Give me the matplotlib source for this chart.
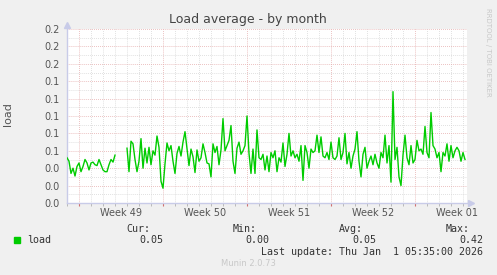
import numpy as np
import pandas as pd
import matplotlib
matplotlib.use("Agg")
import matplotlib.pyplot as plt
import matplotlib.dates as mdates
from matplotlib.ticker import MultipleLocator, FormatStrFormatter

# load samples, 4h apart, starting 30 Nov 2025 (NaN = missing data)
seg_a = [0.052, 0.048, 0.034, 0.040, 0.031, 0.042, 0.046, 0.036, 0.042, 0.050,
         0.046, 0.038, 0.046, 0.047, 0.044, 0.043, 0.050, 0.044, 0.038, 0.036,
         0.036, 0.044, 0.050, 0.047, 0.055]
gap = [np.nan] * 5
seg_b = [0.063, 0.036, 0.071, 0.068, 0.050, 0.036, 0.048, 0.074, 0.040, 0.063,
         0.046, 0.064, 0.044, 0.060, 0.055, 0.077, 0.064, 0.025, 0.017, 0.045,
         0.069, 0.060, 0.066, 0.048, 0.034, 0.057, 0.065, 0.054, 0.070, 0.082,
         0.063, 0.043, 0.062, 0.053, 0.035, 0.061, 0.048, 0.052]
seg_c = [0.068, 0.058, 0.046, 0.045, 0.030, 0.068, 0.058, 0.065, 0.044, 0.061,
         0.097, 0.060, 0.066, 0.072, 0.089, 0.048, 0.034, 0.063, 0.070, 0.056,
         0.060, 0.066, 0.100, 0.057, 0.034, 0.062, 0.034, 0.084, 0.052, 0.050,
         0.056, 0.038, 0.054, 0.036]
seg_d = [0.058, 0.052, 0.060, 0.036, 0.052, 0.047, 0.069, 0.042, 0.056, 0.080,
         0.054, 0.060, 0.052, 0.056, 0.048, 0.066, 0.026, 0.066, 0.058, 0.040,
         0.062, 0.058, 0.060, 0.078, 0.058, 0.076, 0.054, 0.052, 0.058, 0.050,
         0.070, 0.052, 0.050, 0.054]
seg_e = [0.075, 0.050, 0.058, 0.080, 0.045, 0.058, 0.040, 0.054, 0.062, 0.082,
         0.048, 0.030, 0.056, 0.064, 0.040, 0.048, 0.054, 0.044, 0.056, 0.046,
         0.040, 0.058, 0.052, 0.078, 0.046, 0.066, 0.024, 0.128, 0.050, 0.064,
         0.030, 0.020, 0.055, 0.078]
seg_f = [0.052, 0.044, 0.066, 0.046, 0.050, 0.072, 0.060, 0.062, 0.056, 0.088,
         0.058, 0.052, 0.104, 0.066, 0.062, 0.052, 0.058, 0.036, 0.058, 0.054,
         0.068, 0.048, 0.066, 0.052, 0.060, 0.064, 0.060, 0.048, 0.058, 0.050]
load = np.array(seg_a + gap + seg_b + seg_c + seg_d + seg_e + seg_f)

times = pd.date_range("2025-11-30 00:00", periods=len(load), freq="4h")
x_start = pd.Timestamp("2025-11-30 00:00")
x_end = pd.Timestamp("2026-01-02 08:00")

week_labels = ["Week 49", "Week 50", "Week 51", "Week 52", "Week 01"]
week_label_pos = pd.date_range("2025-12-04 12:00", periods=5, freq="7D")
week_starts = pd.date_range("2025-12-01", periods=5, freq="7D")

stat_names = ["Cur:", "Min:", "Avg:", "Max:"]
stat_values = ["0.05", "0.00", "0.05", "0.42"]
last_update = "Last update: Thu Jan  1 05:35:00 2026"

BG = "#f0f0f0"
GREEN = "#00cc00"
MAJ = "#e4a8a8"
MIN = "#d4d4d4"
AXC = "#c8cbe8"
TXT = "#555555"

W, H = 497, 275
fig = plt.figure(figsize=(W / 100, H / 100), dpi=100, facecolor=BG)
ax = fig.add_axes([67 / W, 1 - 203 / H, 400 / W, 174 / H])
ax.set_facecolor("white")

ax.plot(mdates.date2num(times), load, color=GREEN, lw=1.0, zorder=3)

ax.set_xlim(mdates.date2num(x_start), mdates.date2num(x_end))
ax.set_ylim(0, 0.2)

# grid: minor gray dotted, major red dotted
dots = (0, (0.7, 1.4))
ax.yaxis.set_major_locator(MultipleLocator(0.02))
ax.yaxis.set_minor_locator(MultipleLocator(0.01))
ax.yaxis.set_major_formatter(FormatStrFormatter("%.1f"))
ax.xaxis.set_minor_locator(mdates.DayLocator())
ax.set_xticks(mdates.date2num(week_starts))
ax.set_xticklabels([])
ax.grid(which="minor", color=MIN, lw=0.7, linestyle=dots, zorder=1)
ax.grid(which="major", color=MAJ, lw=0.7, linestyle=dots, zorder=2)

for s in ["top", "right"]:
    ax.spines[s].set_visible(False)
for s in ["left", "bottom"]:
    ax.spines[s].set_color(AXC)
    ax.spines[s].set_linewidth(1.0)

ax.tick_params(axis="y", which="both", length=0, labelsize=7, labelcolor=TXT, pad=5)
ax.tick_params(axis="x", which="major", length=2, color="#d07070", direction="out")
ax.tick_params(axis="x", which="minor", length=2, color="#b0b0b0", direction="out")

for lbl, pos in zip(week_labels, week_label_pos):
    ax.text(mdates.date2num(pos), -0.055, lbl, ha="center", va="center",
            fontsize=7, color=TXT, clip_on=False, transform=ax.get_xaxis_transform())

# axis arrows
ax.plot([0], [1.025], marker="^", color=AXC, ms=4, transform=ax.transAxes, clip_on=False)
ax.plot([1.01], [0], marker=">", color=AXC, ms=4, transform=ax.transAxes, clip_on=False)

fig.text(248 / W, 1 - 19 / H, "Load average - by month", ha="center", va="center",
         fontsize=9, color="#444444")
fig.text(8 / W, 1 - 114 / H, "load", ha="center", va="center", rotation=90,
         fontsize=8, color=TXT)
fig.text(488 / W, 1 - 52 / H, "RRDTOOL / TOBI OETIKER", ha="center", va="center",
         rotation=-90, fontsize=5, color="#c8c8c8")

# legend block
mono = "DejaVu Sans Mono"
fig.patches.append(plt.Rectangle((14 / W, 1 - 243 / H), 6 / W, 6 / H,
                                 transform=fig.transFigure, color=GREEN))
fig.text(27 / W, 1 - 240 / H, "load", ha="left", va="center", fontsize=7.2,
         family=mono, color="#333333")
head_right = [150, 257, 363, 470]
val_right = [163, 269, 376, 483]
for name, hx, val, vx in zip(stat_names, head_right, stat_values, val_right):
    fig.text(hx / W, 1 - 228.5 / H, name, ha="right", va="center", fontsize=7.2,
             family=mono, color="#333333")
    fig.text(vx / W, 1 - 240 / H, val, ha="right", va="center", fontsize=7.2,
             family=mono, color="#333333")
fig.text(483 / W, 1 - 252 / H, last_update, ha="right", va="center", fontsize=7.2,
         family=mono, color="#333333")
fig.text(248 / W, 1 - 263.5 / H, "Munin 2.0.73", ha="center", va="center",
         fontsize=6, color="#c8c8c8")

fig.savefig("out.png", dpi=100, facecolor=BG)
